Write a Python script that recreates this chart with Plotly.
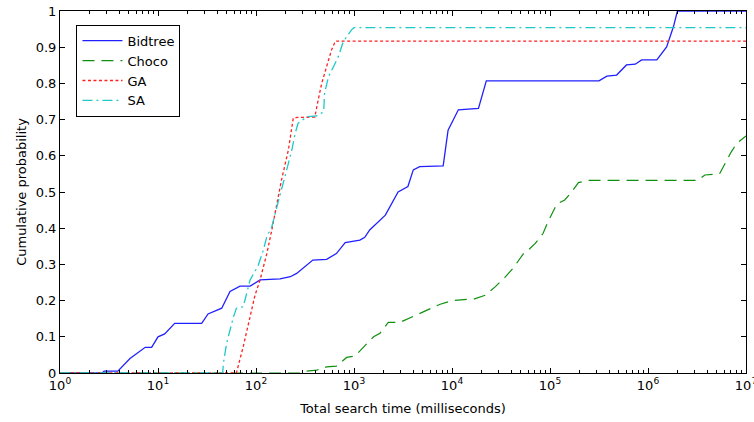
import plotly.graph_objects as go

# Total search time (ms) and cumulative probability for each solver
bidtree_x = [1, 2.69, 2.82, 3.89, 5.18, 7.41, 8.61, 10, 11.7, 14.8, 27.9, 32.4, 44.7, 54.3,
             68.7, 87.1, 110, 176, 224, 260, 380, 525, 661, 813, 1148, 1288, 1445, 2089,
             2818, 3548, 4027, 4677, 8128, 9120, 11610, 18620, 22390, 316200, 380200,
             478600, 602600, 741300, 861000, 1230000, 1549000, 1820000, 1995000, 10000000]
bidtree_y = [0, 0, 0.005, 0.005, 0.04, 0.071, 0.071, 0.10, 0.108, 0.137, 0.137, 0.163, 0.179,
             0.225, 0.24, 0.24, 0.257, 0.26, 0.266, 0.275, 0.312, 0.314, 0.33, 0.36, 0.367,
             0.375, 0.395, 0.436, 0.50, 0.515, 0.561, 0.57, 0.572, 0.671, 0.727, 0.731,
             0.807, 0.807, 0.82, 0.823, 0.851, 0.853, 0.865, 0.865, 0.901, 0.957, 1.0, 1.0]

choco_x = [1, 282, 302, 417, 525, 661, 841, 1023, 1288, 1585, 1841, 2239, 2951, 5248, 7586,
           10000, 16980, 21880, 27540, 34670, 42170, 53700, 57540, 70790, 85110, 95500,
           117500, 141300, 166000, 195000, 245500, 3236000, 3802000, 5370000, 6310000,
           7079000, 8035000, 10000000]
choco_y = [0, 0, 0.004, 0.008, 0.017, 0.019, 0.043, 0.047, 0.075, 0.10, 0.11, 0.14, 0.14,
           0.17, 0.19, 0.20, 0.205, 0.215, 0.238, 0.264, 0.29, 0.33, 0.335, 0.358, 0.386,
           0.418, 0.467, 0.478, 0.50, 0.526, 0.532, 0.532, 0.547, 0.55, 0.588, 0.611,
           0.634, 0.655]

ga_x = [1, 63.1, 74.1, 87.1, 97.7, 110, 129, 145, 162, 182, 214, 240, 263, 398, 431, 468,
        525, 589, 646, 10000000]
ga_y = [0, 0, 0.073, 0.155, 0.215, 0.257, 0.33, 0.395, 0.46, 0.533, 0.616, 0.704, 0.706,
        0.707, 0.754, 0.80, 0.846, 0.892, 0.917, 0.917]

sa_x = [1, 45.7, 46.5, 50.1, 58.9, 63.1, 74.1, 80.4, 87.1, 105, 119, 129, 145, 162, 191,
        214, 232, 251, 269, 331, 417, 490, 501, 550, 617, 692, 776, 841, 944, 1000, 10000000]
sa_y = [0, 0, 0.027, 0.082, 0.155, 0.179, 0.183, 0.22, 0.257, 0.296, 0.34, 0.377, 0.404,
        0.455, 0.533, 0.579, 0.616, 0.662, 0.69, 0.708, 0.71, 0.722, 0.773, 0.819, 0.846,
        0.874, 0.915, 0.929, 0.948, 0.954, 0.954]

x_tickvals = [1, 10, 100, 1000, 10000, 100000, 1000000, 10000000]
x_ticktext = ["10<sup>0</sup>", "10<sup>1</sup>", "10<sup>2</sup>", "10<sup>3</sup>",
              "10<sup>4</sup>", "10<sup>5</sup>", "10<sup>6</sup>", "10<sup>7</sup>"]
x_minorvals = [m * d for d in [1, 10, 100, 1000, 10000, 100000, 1000000]
               for m in [2, 3, 4, 5, 6, 7, 8, 9]]
y_tickvals = [0, 0.1, 0.2, 0.3, 0.4, 0.5, 0.6, 0.7, 0.8, 0.9, 1]
y_ticktext = ["0", "0.1", "0.2", "0.3", "0.4", "0.5", "0.6", "0.7", "0.8", "0.9", "1"]

fig = go.Figure()
fig.add_trace(go.Scatter(x=bidtree_x, y=bidtree_y, mode="lines", name="Bidtree",
                         line=dict(color="#2020ff", width=1.3)))
fig.add_trace(go.Scatter(x=choco_x, y=choco_y, mode="lines", name="Choco",
                         line=dict(color="#109010", width=1.2, dash="12px,7px")))
fig.add_trace(go.Scatter(x=ga_x, y=ga_y, mode="lines", name="GA",
                         line=dict(color="#ff2020", width=1.3, dash="3px,2.5px")))
fig.add_trace(go.Scatter(x=sa_x, y=sa_y, mode="lines", name="SA",
                         line=dict(color="#20c8c8", width=1.3, dash="10px,4px,2px,4px")))

fam = "DejaVu Sans, Verdana, sans-serif"
tick_font = dict(family=fam, size=13, color="black")
title_font = dict(family=fam, size=13, color="black")

fig.update_layout(
    width=754, height=422,
    margin=dict(l=60, r=8, t=11, b=49),
    paper_bgcolor="white", plot_bgcolor="white",
    font=tick_font,
    showlegend=True,
    legend=dict(x=0.024, y=0.962, xanchor="left", yanchor="top",
                bordercolor="black", borderwidth=1, bgcolor="white",
                font=dict(family=fam, size=13, color="black"),
                tracegroupgap=0, itemwidth=40),
    xaxis=dict(type="log", range=[0, 7], tickmode="array", tickvals=x_tickvals,
               ticktext=x_ticktext, ticklabeloverflow="allow", automargin=False,
               ticks="inside", ticklen=5, tickcolor="black", showline=True,
               linecolor="black", linewidth=1, mirror="ticks", showgrid=False,
               zeroline=False, tickfont=tick_font,
               minor=dict(tickmode="array", tickvals=x_minorvals, ticks="inside",
                          ticklen=3, tickcolor="black", showgrid=False),
               title=dict(text="Total search time (milliseconds)", font=title_font, standoff=12)),
    yaxis=dict(range=[0, 1], tickvals=y_tickvals, ticktext=y_ticktext, automargin=False,
               ticks="inside", ticklen=5, tickcolor="black", showline=True,
               linecolor="black", linewidth=1, mirror="ticks", showgrid=False,
               zeroline=False, tickfont=tick_font,
               title=dict(text="Cumulative probability", font=title_font, standoff=6)),
)

fig.write_html("out.html")
